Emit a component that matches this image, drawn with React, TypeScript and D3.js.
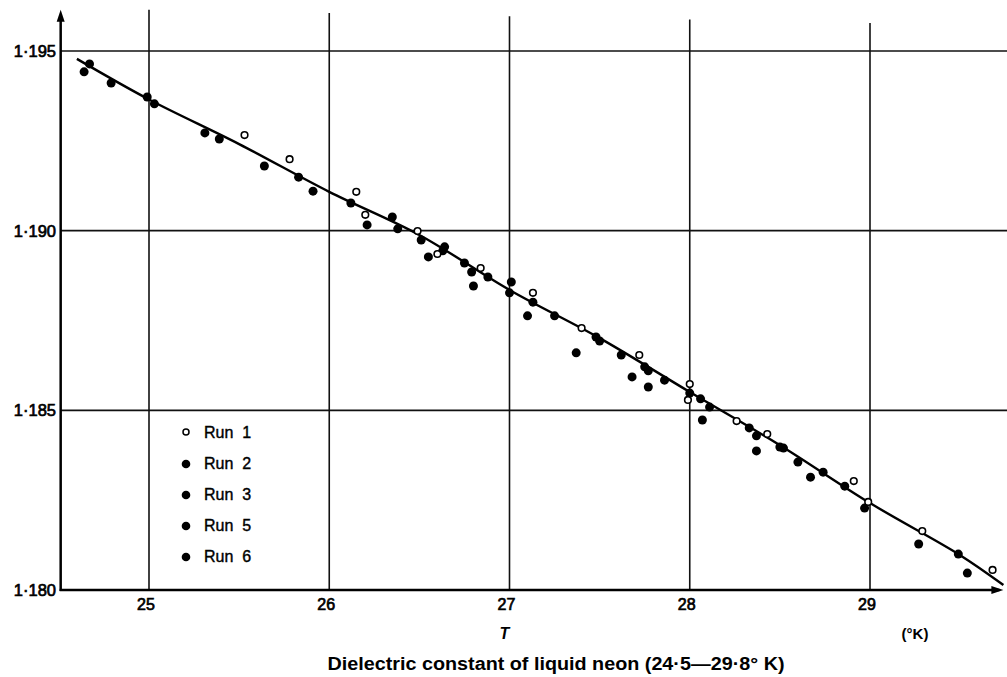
import React, { useRef, useEffect } from "react";
import { select, scaleLinear, line, curveCatmullRom } from "d3";

// temperature ticks (°K) and dielectric constant ticks
const xTicks = [25, 26, 27, 28, 29];
const yTicks = [1.18, 1.185, 1.19, 1.195];
const legendRuns = ["1", "2", "3", "5", "6"];

// Run 1 — open circles  [T, eps]
const run1 = [
    [25.53, 1.19266], [25.78, 1.19199], [26.15, 1.19108], [26.2, 1.19044],
    [26.49, 1.18999], [26.6, 1.18935], [26.84, 1.18896], [27.13, 1.18827],
    [27.4, 1.18729], [27.72, 1.18654], [28.0, 1.18573], [27.99, 1.18529],
    [28.26, 1.1847], [28.43, 1.18434], [28.91, 1.18303], [28.99, 1.18245],
    [29.29, 1.18164], [29.68, 1.18056],
];

// Runs 2, 3, 5, 6 — filled circles  [T, eps]
const runsFilled = [
    [24.64, 1.19442], [24.67, 1.19464], [24.79, 1.19411], [24.99, 1.19372],
    [25.03, 1.19353], [25.31, 1.19272], [25.39, 1.19255], [25.64, 1.1918],
    [25.83, 1.19149], [25.91, 1.1911], [26.12, 1.19077], [26.21, 1.19016],
    [26.35, 1.19038], [26.38, 1.19005], [26.51, 1.18974], [26.64, 1.18955],
    [26.63, 1.18944], [26.55, 1.18927], [26.75, 1.1891], [26.79, 1.18885],
    [26.88, 1.18871], [26.8, 1.18846], [27.01, 1.18857], [27.0, 1.18827],
    [27.13, 1.18801], [27.1, 1.18763], [27.25, 1.18763], [27.48, 1.18704],
    [27.5, 1.18693], [27.37, 1.1866], [27.62, 1.18654], [27.75, 1.18621],
    [27.77, 1.1861], [27.68, 1.18593], [27.77, 1.18565], [27.86, 1.18584],
    [28.0, 1.18548], [28.06, 1.18532], [28.11, 1.18509], [28.07, 1.18473],
    [28.33, 1.18451], [28.37, 1.18429], [28.37, 1.18387], [28.5, 1.18398],
    [28.52, 1.18395], [28.6, 1.18356], [28.74, 1.18328], [28.67, 1.18314],
    [28.86, 1.18289], [28.97, 1.18228], [29.27, 1.18128], [29.49, 1.181],
    [29.54, 1.18047],
];

// smooth curve drawn through the points
const fitT = [24.6, 25, 25.5, 26, 26.5, 27, 27.5, 28, 28.5, 29, 29.5, 29.74];
const fitEps = [1.19478, 1.19365, 1.19241, 1.19108, 1.18988, 1.18835, 1.18701, 1.18551, 1.18403, 1.18242, 1.18097, 1.18014];

const fmt = (v) => v.toFixed(3).replace(".", "·");

export default function App() {
    const svgRef = useRef(null);
    const width = 1007;
    const height = 677;

    const xMin = 24.51;
    const xMax = 29.74;
    const yTop = 1.19615;

    const xScale = scaleLinear().domain([25, 29]).range([149, 870]);
    const yScale = scaleLinear().domain([1.18, 1.195]).range([590, 51]);

    useEffect(() => {
        const svg = select(svgRef.current);
        svg.selectAll("*").remove();
        const font = "'Liberation Sans', Arial, sans-serif";

        const x0 = xScale(xMin);
        const x1 = xScale(xMax);
        const y0 = yScale(1.18);
        const yT = yScale(yTop);

        // vertical grid (tops step down slightly, as drawn on the original)
        svg.selectAll(".vgrid")
            .data(xTicks)
            .join("line")
            .attr("x1", (d) => xScale(d))
            .attr("x2", (d) => xScale(d))
            .attr("y1", (d, i) => yT + i * 3.3)
            .attr("y2", y0)
            .attr("stroke", "#111")
            .attr("stroke-width", 1.6);

        // horizontal grid
        svg.selectAll(".hgrid")
            .data(yTicks.filter((d) => d > 1.18))
            .join("line")
            .attr("x1", x0)
            .attr("x2", width)
            .attr("y1", (d) => yScale(d))
            .attr("y2", (d) => yScale(d))
            .attr("stroke", "#111")
            .attr("stroke-width", 1.7);

        // axes
        svg.append("line")
            .attr("x1", x0).attr("x2", x0)
            .attr("y1", yT + 6).attr("y2", y0 + 1)
            .attr("stroke", "#000").attr("stroke-width", 2.5);
        svg.append("line")
            .attr("x1", x0 - 1).attr("x2", x1 - 4)
            .attr("y1", y0).attr("y2", y0)
            .attr("stroke", "#000").attr("stroke-width", 2.5);
        svg.append("path")
            .attr("d", `M${x0 - 4},${yT + 12} L${x0},${yT} L${x0 + 4},${yT + 12} Z`)
            .attr("fill", "#000");
        svg.append("path")
            .attr("d", `M${x1 - 12},${y0 - 4} L${x1},${y0} L${x1 - 12},${y0 + 4} Z`)
            .attr("fill", "#000");

        // tick labels
        svg.selectAll(".ylab")
            .data(yTicks)
            .join("text")
            .attr("x", 56)
            .attr("y", (d) => yScale(d) + 6)
            .attr("text-anchor", "end")
            .attr("font-family", font)
            .attr("font-size", 16.5)
            .attr("stroke", "#000")
            .attr("stroke-width", 0.7)
            .text(fmt);

        svg.selectAll(".xlab")
            .data(xTicks)
            .join("text")
            .attr("x", (d) => xScale(d) - 3)
            .attr("y", 610)
            .attr("text-anchor", "middle")
            .attr("font-family", font)
            .attr("font-size", 16)
            .attr("stroke", "#000")
            .attr("stroke-width", 0.7)
            .text((d) => d);

        svg.append("text")
            .attr("x", xScale(27) - 5)
            .attr("y", 639)
            .attr("text-anchor", "middle")
            .attr("font-family", font)
            .attr("font-style", "italic")
            .attr("font-weight", "bold")
            .attr("font-size", 16)
            .text("T");

        svg.append("text")
            .attr("x", 915)
            .attr("y", 639)
            .attr("text-anchor", "middle")
            .attr("font-family", font)
            .attr("font-weight", "bold")
            .attr("font-size", 15)
            .text("(°K)");

        svg.append("text")
            .attr("x", 556)
            .attr("y", 670)
            .attr("text-anchor", "middle")
            .attr("font-family", font)
            .attr("font-weight", "bold")
            .attr("font-size", 18)
            .attr("textLength", 457)
            .attr("lengthAdjust", "spacingAndGlyphs")
            .text("Dielectric constant of liquid neon (24·5—29·8° K)");

        // fitted curve
        const fitLine = line()
            .x((d, i) => xScale(fitT[i]))
            .y((d) => yScale(d))
            .curve(curveCatmullRom);
        svg.append("path")
            .datum(fitEps)
            .attr("d", fitLine)
            .attr("fill", "none")
            .attr("stroke", "#000")
            .attr("stroke-width", 2.4);

        // filled runs
        svg.selectAll(".filled")
            .data(runsFilled)
            .join("circle")
            .attr("cx", (d) => xScale(d[0]))
            .attr("cy", (d) => yScale(d[1]))
            .attr("r", 4.5)
            .attr("fill", "#000");

        // run 1 open
        svg.selectAll(".open")
            .data(run1)
            .join("circle")
            .attr("cx", (d) => xScale(d[0]))
            .attr("cy", (d) => yScale(d[1]))
            .attr("r", 3.3)
            .attr("fill", "#fff")
            .attr("stroke", "#000")
            .attr("stroke-width", 1.6);

        // legend
        const lg = svg.append("g");
        legendRuns.forEach((r, i) => {
            const ly = 432 + i * 31;
            if (i === 0) {
                lg.append("circle").attr("cx", 186).attr("cy", ly).attr("r", 3)
                    .attr("fill", "#fff").attr("stroke", "#000").attr("stroke-width", 1.5);
            } else {
                lg.append("circle").attr("cx", 186).attr("cy", ly + 1).attr("r", 4.3).attr("fill", "#000");
            }
            const t = lg.append("text")
                .attr("x", 204)
                .attr("y", ly + 6)
                .attr("font-family", font)
                .attr("font-size", 16)
                .attr("stroke", "#000")
                .attr("stroke-width", 0.4);
            t.append("tspan").text("Run");
            t.append("tspan").attr("dx", 9).text(r);
        });
    }, []);

    return (
        <svg
            ref={svgRef}
            width={width}
            height={height}
            style={{ position: "absolute", left: 0, top: 0, background: "#fff" }}
        />
    );
}
